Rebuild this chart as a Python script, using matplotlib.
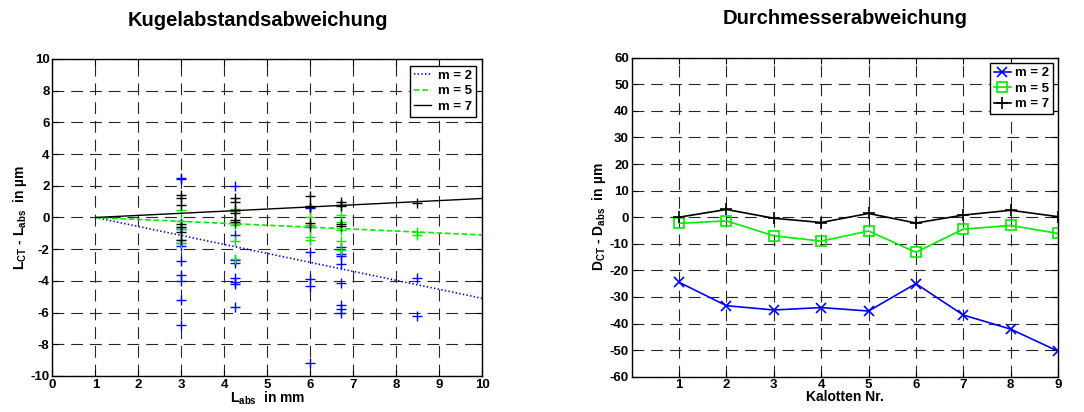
import numpy as np
import matplotlib
matplotlib.use('Agg')
import matplotlib.pyplot as plt

plt.rcParams['font.family'] = ['Liberation Sans', 'DejaVu Sans']
plt.rcParams['font.weight'] = 'bold'
plt.rcParams['mathtext.fontset'] = 'custom'
plt.rcParams['mathtext.rm'] = 'Liberation Sans:bold'
plt.rcParams['mathtext.bf'] = 'Liberation Sans:bold'
plt.rcParams['mathtext.default'] = 'bf'
plt.rcParams['lines.scale_dashes'] = False
plt.rcParams['axes.unicode_minus'] = False

# Left chart: ball distance deviation, measured points per distance
dist = [3.0, 4.24, 6.0, 6.71, 8.49]
dev_m2 = [
    [2.5, 2.4, -0.7, -1.6, -1.8, -2.75, -3.6, -4.0, -5.2, -6.8],
    [2.0, -1.1, -2.7, -2.9, -3.8, -4.05, -4.2, -5.65],
    [0.6, -2.2, -3.9, -4.35, -9.2],
    [-1.85, -2.3, -2.45, -2.95, -4.15, -5.5, -5.8, -6.0],
    [-3.8, -6.2],
]
dev_m5 = [
    [0.5, -0.2, -0.6, -0.75, -1.4, -1.6],
    [0.55, 0.4, -0.35, -0.5, -1.5, -2.6],
    [0.0, -0.5, -1.2, -1.45],
    [0.15, -0.3, -0.8, -1.5, -2.05],
    [-0.9, -1.1],
]
dev_m7 = [
    [1.4, 1.25, 0.8, -0.4, -0.6, -0.9, -1.4],
    [1.2, 1.0, 0.45, 0.3, -0.15, -0.3],
    [1.35, 0.7, 0.65, -0.35, -0.6],
    [1.0, 0.8, 0.7, -0.4, -0.55],
    [0.9],
]
# fitted trend lines (value at x=1 and x=10)
fit_x = [1, 10]
fit_m2 = [0, -5.1]
fit_m5 = [0, -1.1]
fit_m7 = [0, 1.2]

# Right chart: diameter deviation per calotte
kalotte = [1, 2, 3, 4, 5, 6, 7, 8, 9]
d_m2 = [-24.5, -33.3, -34.9, -34.0, -35.3, -25.0, -36.8, -42.1, -50.4]
d_m5 = [-2.3, -1.4, -7.0, -9.0, -5.2, -13.2, -4.5, -3.1, -6.1]
d_m7 = [0.0, 2.9, -0.4, -2.0, 1.4, -2.2, 0.8, 2.6, 0.2]

fig = plt.figure(figsize=(10.84, 4.12), dpi=100)
ax1 = fig.add_axes([0.0483, 0.0874, 0.3966, 0.7694])
ax2 = fig.add_axes([0.5828, 0.0857, 0.3932, 0.7743])

def style(ax):
    ax.grid(True, color='0.15', linewidth=0.8, dashes=(8.5, 5))
    ax.tick_params(direction='in', labelsize=9.5, length=4, top=True, right=True, pad=2)
    for s in ax.spines.values():
        s.set_linewidth(1.0)
    for lab in ax.get_xticklabels() + ax.get_yticklabels():
        lab.set_fontweight('bold')

# left
for cols, c in [(dev_m2, 'blue'), (dev_m5, '#00ee00'), (dev_m7, 'black')]:
    for xv, ys in zip(dist, cols):
        ax1.plot([xv] * len(ys), ys, '+', color=c, markersize=7, markeredgewidth=1.0)
ax1.plot(fit_x, fit_m2, ':', color='blue', linewidth=1.2, label='m = 2')
ax1.plot(fit_x, fit_m5, color='#00ee00', linewidth=1.2, dashes=(4, 2), label='m = 5')
ax1.plot(fit_x, fit_m7, '-', color='black', linewidth=1.0, label='m = 7')
ax1.set_xlim(0, 10)
ax1.set_ylim(-10, 10)
ax1.set_xticks(np.arange(0, 11, 1))
ax1.set_yticks(np.arange(-10, 11, 2))
ax1.set_xlabel(r'$L_{abs}$  in mm', fontsize=10, fontweight='bold', labelpad=-1)
ax1.set_ylabel(r'$L_{CT}$ - $L_{abs}$  in µm', fontsize=10, fontweight='bold', labelpad=1)
ax1.set_title('Kugelabstandsabweichung', fontsize=14.5, fontweight='bold', pad=24, x=0.477)
leg1 = ax1.legend(loc='upper right', fontsize=9.5, fancybox=False, edgecolor='black',
                  framealpha=1, handlelength=1.3, handletextpad=0.5, borderpad=0.3,
                  borderaxespad=0.5, labelspacing=0.25)
leg1.get_frame().set_linewidth(1.0)
style(ax1)

# right
ax2.plot(kalotte, d_m2, '-x', color='blue', linewidth=1.2, markersize=7, markeredgewidth=1.2, label='m = 2')
ax2.plot(kalotte, d_m5, '-s', color='#00ee00', linewidth=1.2, markersize=7, markerfacecolor='none',
         markeredgewidth=1.2, label='m = 5')
ax2.plot(kalotte, d_m7, '-+', color='black', linewidth=1.2, markersize=8, markeredgewidth=1.2, label='m = 7')
ax2.set_xlim(0, 9)
ax2.set_ylim(-60, 60)
ax2.set_xticks(kalotte)
ax2.set_yticks(np.arange(-60, 61, 10))
ax2.set_xlabel('Kalotten Nr.', fontsize=10, fontweight='bold', labelpad=-1)
ax2.set_ylabel(r'$D_{CT}$ - $D_{abs}$  in µm', fontsize=10, fontweight='bold', labelpad=1)
ax2.set_title('Durchmesserabweichung', fontsize=14.5, fontweight='bold', pad=24)
leg2 = ax2.legend(loc='upper right', fontsize=9.5, fancybox=False, edgecolor='black',
                  framealpha=1, handlelength=1.3, handletextpad=0.3, borderpad=0.3,
                  borderaxespad=0.4, labelspacing=0.25)
leg2.get_frame().set_linewidth(1.0)
style(ax2)

fig.savefig('out.png', dpi=100)
